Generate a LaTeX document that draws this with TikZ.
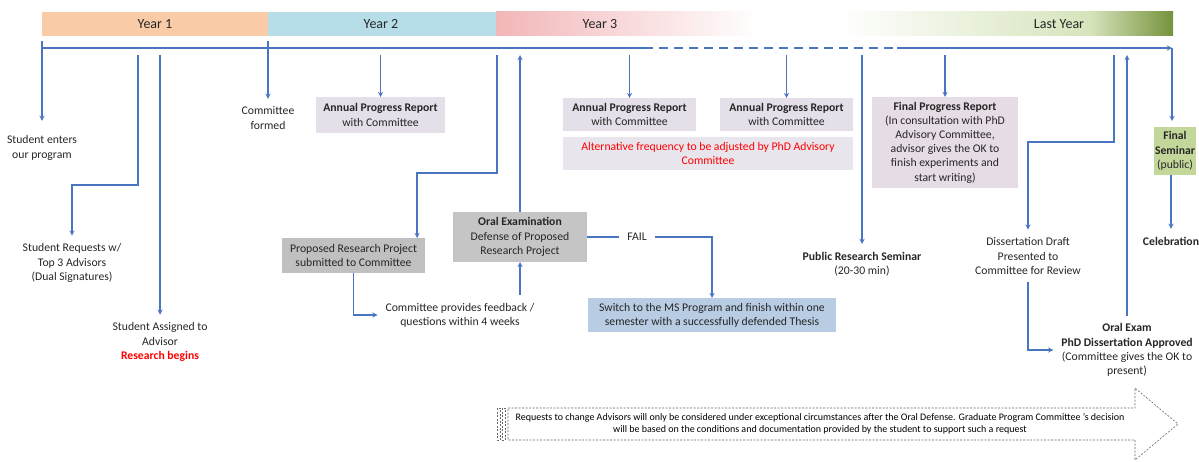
\documentclass[tikz,border=0pt]{standalone}
\usepackage{fontspec}
\setmainfont{Carlito}
\usetikzlibrary{arrows,positioning,calc}

\definecolor{flowblue}{RGB}{74,117,193}
\definecolor{txtgrey}{RGB}{38,38,38}
\definecolor{yearone}{RGB}{249,203,166}
\definecolor{yeartwo}{RGB}{183,222,232}
\definecolor{yearthree}{RGB}{242,182,184}
\definecolor{lastlight}{RGB}{214,228,188}
\definecolor{lastdark}{RGB}{118,146,60}
\definecolor{repfill}{RGB}{228,223,232}
\definecolor{notefill}{RGB}{233,229,237}
\definecolor{fprfill}{RGB}{230,220,230}
\definecolor{greyfill}{RGB}{192,192,192}
\definecolor{oralfill}{RGB}{197,197,197}
\definecolor{msfill}{RGB}{184,204,228}
\definecolor{semfill}{RGB}{196,215,155}

\begin{document}
\begin{tikzpicture}[x=1pt,y=-1pt,
    every node/.style={font=\fontsize{11.7}{14.2}\selectfont, text=txtgrey},
    flow/.style={draw=flowblue, line width=1.3pt, -stealth},
    plain/.style={draw=flowblue, line width=1.3pt},
    txt/.style={align=center, inner sep=0pt, outer sep=8pt},
    card/.style={align=center, inner sep=0pt, outer sep=0pt},
    yearlbl/.style={font=\fontsize{14}{16}\selectfont},
    notedash/.style={draw=black!60, line width=0.6pt, dash pattern=on 2pt off 1.5pt}]

  \useasboundingbox (0,0) rectangle (1199,462);

  % Year bar
  \fill[yearone] (42,12) rectangle (268,36);
  \fill[yeartwo] (268,12) rectangle (496,36);
  \shade[left color=yearthree, right color=white] (496,12) rectangle (760,36);
  \shade[left color=white, right color=lastlight] (840,12) rectangle (1090,36);
  \shade[left color=lastlight, right color=lastdark] (1090,12) rectangle (1173,36);
  \node[yearlbl] (lbly1) at (155,24) {Year 1};
  \node[yearlbl] (lbly2) at (381,24) {Year 2};
  \node[yearlbl] (lbly3) at (600,24) {Year 3};
  \node[yearlbl] (lbllast) at (1059,24) {Last Year};

  % Timeline
  \coordinate (tl0) at (42,48);
  \coordinate (tld1) at (644,48);
  \coordinate (tld2) at (897,48);
  \coordinate (tlend) at (1172,48);
  \coordinate (tltop) at (0,41);
  \coordinate (tlbot) at (0,55);
  \draw[plain] (tl0) -- (tld1);
  \draw[plain, dash pattern=on 9pt off 6pt] (tld1) -- (tld2);
  \draw[flow] (tld2) -- (tlend);

  % Year 1
  \node[txt] (enter) at (42,148) {Student enters\\our program};
  \node[txt] (req) at (72,263) {Student Requests w/\\Top 3 Advisors\\(Dual Signatures)};
  \node[txt] (assigned) at (160,342) {Student Assigned to\\Advisor\\\textcolor{red}{\textbf{Research begins}}};
  \coordinate (reqtop) at (138,55);
  \draw[flow, shorten >=7pt] (enter.north |- tltop) -- (enter);
  \draw[flow] (reqtop) -- ++(0,130) -| (req);
  \draw[flow] (assigned |- tlbot) -- (assigned);

  % Year 2
  \node[txt] (cform) at (268,118) {Committee\\formed};
  \node[card, fill=repfill, minimum width=129, minimum height=36] (apr1) at (380.5,115) {\textbf{Annual Progress Report}\\with Committee};
  \node[card, fill=greyfill, minimum width=143, minimum height=35] (prp) at (353.5,255.5) {Proposed Research Project\\submitted to Committee};
  \node[txt] (feedback) at (460,315) {Committee provides feedback /\\questions within 4 weeks};
  \node[card, fill=oralfill, minimum width=134, minimum height=50] (oral) at (520,237) {\textbf{Oral Examination}\\Defense of Proposed\\Research Project};
  \coordinate (prptop) at (497,55);
  \draw[flow] (cform |- tltop) -- (cform);
  \draw[flow] (apr1 |- tlbot) -- (apr1);
  \draw[flow] (prptop) -- ++(0,118) -| ([xshift=-8pt]prp.north east);
  \draw[flow] (prp.south) |- (feedback);
  \draw[flow] (oral |- feedback.north) -- (oral);
  \draw[flow] (oral) -- (oral |- tlbot);

  % Fail branch
  \node[txt] (fail) at (637,237) {FAIL};
  \node[card, fill=msfill, minimum width=248, minimum height=34] (ms) at (712,315) {Switch to the MS Program and finish within one\\semester with a successfully defended Thesis};
  \draw[plain] (oral) -- (fail);
  \draw[flow] (fail) -| (ms);

  % Year 3
  \node[card, fill=repfill, minimum width=133, minimum height=33] (apr2) at (629.5,114.5) {\textbf{Annual Progress Report}\\with Committee};
  \node[card, fill=repfill, minimum width=133, minimum height=33] (apr3) at (786.5,114.5) {\textbf{Annual Progress Report}\\with Committee};
  \node[card, fill=notefill, minimum width=290, minimum height=33, text=red] (altfreq) at (708,153.5) {Alternative frequency to be adjusted by PhD Advisory\\Committee};
  \draw[flow] (apr2 |- tlbot) -- (apr2);
  \draw[flow] (apr3 |- tlbot) -- (apr3);

  % Last year
  \node[txt] (prs) at (862,264) {\textbf{Public Research Seminar}\\(20-30 min)};
  \node[card, fill=fprfill, minimum width=146, minimum height=91] (fpr) at (945,142.5) {\textbf{Final Progress Report}\\(In consultation with PhD\\Advisory Committee,\\advisor gives the OK to\\finish experiments and\\start writing)};
  \node[txt] (draft) at (1028,256) {Dissertation Draft\\Presented to\\Committee for Review};
  \node[txt] (oexam) at (1127,350) {\textbf{Oral Exam}\\\textbf{PhD Dissertation Approved}\\(Committee gives the OK to\\present)};
  \node[card, fill=semfill, minimum width=42, minimum height=48] (fsem) at (1175,151) {\textbf{Final}\\\textbf{Seminar}\\(public)};
  \node[txt] (celeb) at (1171,241) {\textbf{Celebration}};
  \coordinate (drafttop) at (1114,55);
  \draw[flow] (prs |- tlbot) -- (prs);
  \draw[flow] (fpr |- tlbot) -- (fpr);
  \draw[flow] (drafttop) -- ++(0,87) -| (draft);
  \draw[flow] (draft) |- (oexam);
  \draw[flow] (oexam) -- (oexam |- tlbot);
  \draw[flow, shorten >=6pt] (tlend) -- (tlend |- fsem.north);
  \draw[flow] (celeb |- fsem.south) -- (celeb);

  % Advisor change note
  \draw[notedash] (508,408) -- (1135,408) -- (1135,388) -- (1178,424) -- (1135,460) -- (1135,440) -- (508,440) -- cycle;
  \draw[notedash] (497,408) rectangle (500,440);
  \draw[notedash] (502,408) rectangle (505,440);
  \node[align=center, font=\fontsize{10}{12.5}\selectfont, text=black] (note) at (820,424) {Requests to change Advisors will only be considered under exceptional circumstances after the Oral Defense. Graduate Program Committee 's decision\\will be based on the conditions and documentation provided by the student to support such a request};
\end{tikzpicture}
\end{document}
